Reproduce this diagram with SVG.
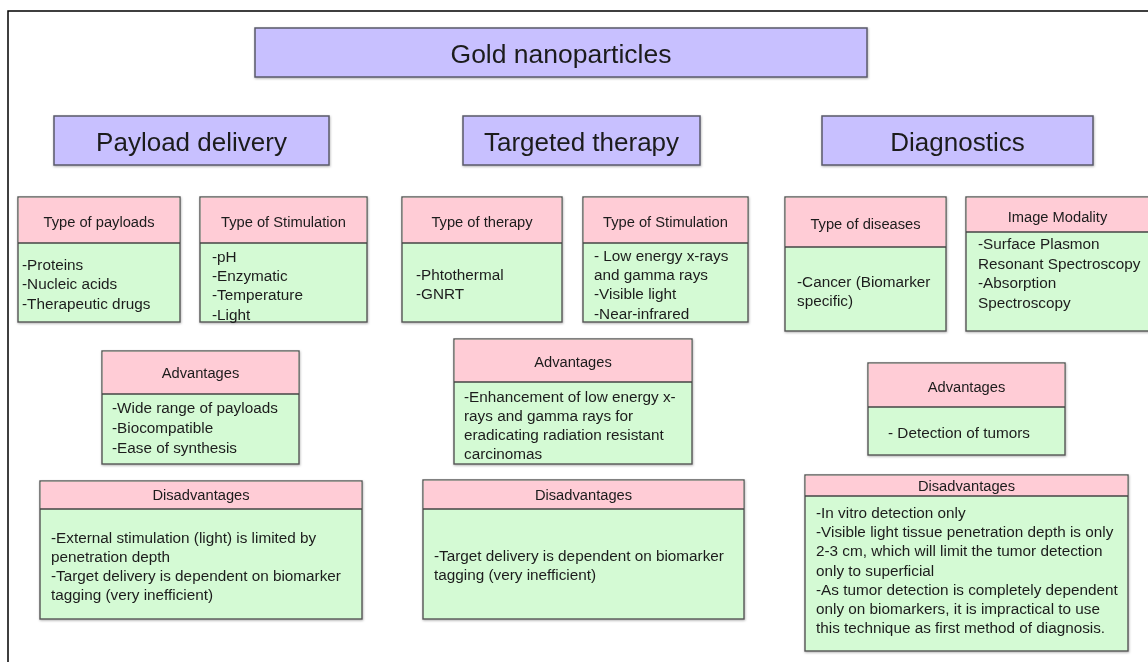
<svg xmlns="http://www.w3.org/2000/svg" width="1148" height="662" viewBox="0 0 1148 662">
<style>
  .frame{stroke:#000;stroke-width:1.5;fill:none}
  .pur{fill:#C8C0FF;stroke:#5a5a6a;stroke-width:1.5}
  .body{fill:#D4FAD4;stroke:#555;stroke-width:1.4}
  .head{fill:#FFCCD6;stroke:none}
  .div{stroke:#444;stroke-width:1.4}
  text{font-family:"Liberation Sans",Arial,sans-serif;fill:#1c1c1c}
  .t1{font-size:26.5px;text-anchor:middle}
  .t2{font-size:26px;text-anchor:middle}
  .h{font-size:14.7px;text-anchor:middle}
  .b{font-size:15.3px}
</style>
<defs>
  <filter id="sh" x="-5%" y="-5%" width="110%" height="115%">
    <feDropShadow dx="0.5" dy="1" stdDeviation="0.8" flood-color="#000" flood-opacity="0.3"/>
  </filter>
</defs>
<rect x="0" y="0" width="1148" height="662" fill="#fff"/>
<path class="frame" d="M8,662 V11 H1148"/>

<g id="title" filter="url(#sh)">
  <rect class="pur" x="255" y="28" width="612" height="49"/>
  <text class="t1" x="561" y="63">Gold nanoparticles</text>
</g>

<g id="payload-delivery" filter="url(#sh)">
  <rect class="pur" x="54" y="116" width="275" height="49"/>
  <text class="t2" x="191.5" y="151">Payload delivery</text>
</g>
<g id="targeted-therapy" filter="url(#sh)">
  <rect class="pur" x="463" y="116" width="237" height="49"/>
  <text class="t2" x="581.5" y="151">Targeted therapy</text>
</g>
<g id="diagnostics" filter="url(#sh)">
  <rect class="pur" x="822" y="116" width="271" height="49"/>
  <text class="t2" x="957.5" y="151">Diagnostics</text>
</g>

<g id="pd-payloads" filter="url(#sh)">
  <rect class="body" x="18" y="197" width="162" height="125"/>
  <rect class="head" x="18.7" y="197.7" width="160.6" height="45.3"/>
  <line class="div" x1="18" y1="243" x2="180" y2="243"/>
  <text class="h" x="99" y="227">Type of payloads</text>
  <text class="b" x="22" y="270">-Proteins</text>
  <text class="b" x="22" y="289">-Nucleic acids</text>
  <text class="b" x="22" y="309">-Therapeutic drugs</text>
</g>

<g id="pd-stimulation" filter="url(#sh)">
  <rect class="body" x="200" y="197" width="167" height="125"/>
  <rect class="head" x="200.7" y="197.7" width="165.6" height="45.3"/>
  <line class="div" x1="200" y1="243" x2="367" y2="243"/>
  <text class="h" x="283.5" y="227">Type of Stimulation</text>
  <text class="b" x="212" y="262">-pH</text>
  <text class="b" x="212" y="281">-Enzymatic</text>
  <text class="b" x="212" y="300">-Temperature</text>
  <text class="b" x="212" y="320">-Light</text>
</g>

<g id="pd-advantages" filter="url(#sh)">
  <rect class="body" x="102" y="351" width="197" height="113"/>
  <rect class="head" x="102.7" y="351.7" width="195.6" height="42.3"/>
  <line class="div" x1="102" y1="394" x2="299" y2="394"/>
  <text class="h" x="200.5" y="378">Advantages</text>
  <text class="b" x="112" y="413">-Wide range of payloads</text>
  <text class="b" x="112" y="433">-Biocompatible</text>
  <text class="b" x="112" y="453">-Ease of synthesis</text>
</g>

<g id="pd-disadvantages" filter="url(#sh)">
  <rect class="body" x="40" y="481" width="322" height="138"/>
  <rect class="head" x="40.7" y="481.7" width="320.6" height="27.3"/>
  <line class="div" x1="40" y1="509" x2="362" y2="509"/>
  <text class="h" x="201" y="500">Disadvantages</text>
  <text class="b" x="51" y="543">-External stimulation (light) is limited by</text>
  <text class="b" x="51" y="562">penetration depth</text>
  <text class="b" x="51" y="581">-Target delivery is dependent on biomarker</text>
  <text class="b" x="51" y="600">tagging (very inefficient)</text>
</g>

<g id="tt-therapy" filter="url(#sh)">
  <rect class="body" x="402" y="197" width="160" height="125"/>
  <rect class="head" x="402.7" y="197.7" width="158.6" height="45.3"/>
  <line class="div" x1="402" y1="243" x2="562" y2="243"/>
  <text class="h" x="482" y="227">Type of therapy</text>
  <text class="b" x="416" y="280">-Phtothermal</text>
  <text class="b" x="416" y="299">-GNRT</text>
</g>

<g id="tt-stimulation" filter="url(#sh)">
  <rect class="body" x="583" y="197" width="165" height="125"/>
  <rect class="head" x="583.7" y="197.7" width="163.6" height="45.3"/>
  <line class="div" x1="583" y1="243" x2="748" y2="243"/>
  <text class="h" x="665.5" y="227">Type of Stimulation</text>
  <text class="b" x="594" y="261">- Low energy x-rays</text>
  <text class="b" x="594" y="280">and gamma rays</text>
  <text class="b" x="594" y="299">-Visible light</text>
  <text class="b" x="594" y="319">-Near-infrared</text>
</g>

<g id="tt-advantages" filter="url(#sh)">
  <rect class="body" x="454" y="339" width="238" height="125"/>
  <rect class="head" x="454.7" y="339.7" width="236.6" height="42.3"/>
  <line class="div" x1="454" y1="382" x2="692" y2="382"/>
  <text class="h" x="573" y="367">Advantages</text>
  <text class="b" x="464" y="402">-Enhancement of low energy x-</text>
  <text class="b" x="464" y="421">rays and gamma rays for</text>
  <text class="b" x="464" y="440">eradicating radiation resistant</text>
  <text class="b" x="464" y="459">carcinomas</text>
</g>

<g id="tt-disadvantages" filter="url(#sh)">
  <rect class="body" x="423" y="480" width="321" height="139"/>
  <rect class="head" x="423.7" y="480.7" width="319.6" height="28.3"/>
  <line class="div" x1="423" y1="509" x2="744" y2="509"/>
  <text class="h" x="583.5" y="500">Disadvantages</text>
  <text class="b" x="434" y="561">-Target delivery is dependent on biomarker</text>
  <text class="b" x="434" y="580">tagging (very inefficient)</text>
</g>

<g id="dg-diseases" filter="url(#sh)">
  <rect class="body" x="785" y="197" width="161" height="134"/>
  <rect class="head" x="785.7" y="197.7" width="159.6" height="49.3"/>
  <line class="div" x1="785" y1="247" x2="946" y2="247"/>
  <text class="h" x="865.5" y="229">Type of diseases</text>
  <text class="b" x="797" y="287">-Cancer (Biomarker</text>
  <text class="b" x="797" y="306">specific)</text>
</g>

<g id="dg-modality" filter="url(#sh)">
  <rect class="body" x="966" y="197" width="186" height="134"/>
  <rect class="head" x="966.7" y="197.7" width="184.6" height="34.3"/>
  <line class="div" x1="966" y1="232" x2="1152" y2="232"/>
  <text class="h" x="1057.5" y="222">Image Modality</text>
  <text class="b" x="978" y="249">-Surface Plasmon</text>
  <text class="b" x="978" y="269">Resonant Spectroscopy</text>
  <text class="b" x="978" y="288">-Absorption</text>
  <text class="b" x="978" y="308">Spectroscopy</text>
</g>

<g id="dg-advantages" filter="url(#sh)">
  <rect class="body" x="868" y="363" width="197" height="92"/>
  <rect class="head" x="868.7" y="363.7" width="195.6" height="43.3"/>
  <line class="div" x1="868" y1="407" x2="1065" y2="407"/>
  <text class="h" x="966.5" y="392">Advantages</text>
  <text class="b" x="888" y="438">- Detection of tumors</text>
</g>

<g id="dg-disadvantages" filter="url(#sh)">
  <rect class="body" x="805" y="475" width="323" height="176"/>
  <rect class="head" x="805.7" y="475.7" width="321.6" height="20.3"/>
  <line class="div" x1="805" y1="496" x2="1128" y2="496"/>
  <text class="h" x="966.5" y="491">Disadvantages</text>
  <text class="b" x="816" y="518">-In vitro detection only</text>
  <text class="b" x="816" y="537">-Visible light tissue penetration depth is only</text>
  <text class="b" x="816" y="556">2-3 cm, which will limit the tumor detection</text>
  <text class="b" x="816" y="576">only to superficial</text>
  <text class="b" x="816" y="595">-As tumor detection is completely dependent</text>
  <text class="b" x="816" y="614">only on biomarkers, it is impractical to use</text>
  <text class="b" x="816" y="633">this technique as first method of diagnosis.</text>
</g>

<g id="connectors"/>
</svg>
